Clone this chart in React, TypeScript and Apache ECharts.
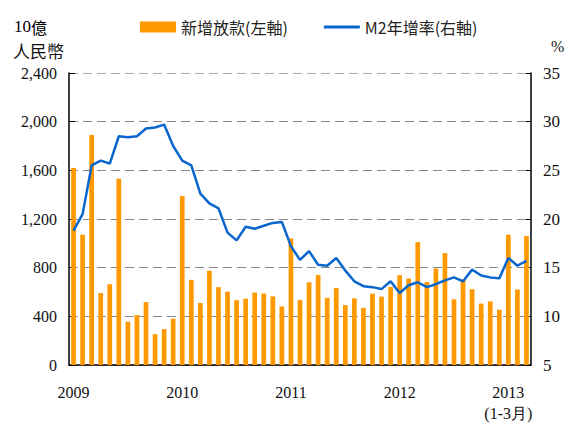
import React, { useEffect, useRef } from "react";
import * as echarts from "echarts";

const months: string[] = [];
for (let y = 2009; y <= 2013; y++) {
  for (let m = 1; m <= 12; m++) {
    if (y === 2013 && m > 3) break;
    months.push(`${y}/${m}`);
  }
}

const newLoans = [
  1620, 1070, 1890, 592, 664, 1530, 356, 410, 517, 253, 295, 380,
  1390, 700, 510, 774, 640, 603, 533, 545, 595, 587, 564, 481,
  1040, 535, 680, 740, 552, 634, 492, 548, 470, 587, 562, 641,
  738, 711, 1010, 682, 793, 920, 540, 704, 623, 505, 523, 454,
  1070, 620, 1060,
];

const m2Growth = [
  18.8, 20.5, 25.5, 26.0, 25.7, 28.5, 28.4, 28.5, 29.3, 29.4, 29.7, 27.5,
  26.0, 25.5, 22.6, 21.6, 21.1, 18.6, 17.8, 19.2, 19.0, 19.3, 19.6, 19.7,
  17.2, 15.8, 16.7, 15.3, 15.2, 16.0, 14.7, 13.6, 13.1, 13.0, 12.8, 13.6,
  12.4, 13.2, 13.5, 13.0, 13.3, 13.7, 14.0, 13.6, 14.8, 14.2, 14.0, 13.9,
  16.0, 15.2, 15.7,
];

const leftTicks = { min: 0, max: 2400, interval: 400 };
const rightTicks = { min: 5, max: 35, interval: 5 };
const seriesNames = ["新增放款(左軸)", "M2年增率(右軸)"];

const serif = "Liberation Serif";
const cjk = "Noto Sans CJK TC";

export default function App() {
  const ref = useRef<HTMLDivElement>(null);
  useEffect(() => {
    if (!ref.current) return;
    const chart = echarts.init(ref.current, undefined, { renderer: "svg" });
    chart.setOption({
      animation: false,
      backgroundColor: "#ffffff",
      textStyle: { fontFamily: serif },
      grid: { left: 69, right: 35, top: 73, bottom: 57 },
      legend: {
        left: 140,
        top: 19,
        padding: 0,
        itemWidth: 36,
        itemHeight: 11,
        itemGap: 36,
        textStyle: { fontFamily: cjk, fontSize: 16, color: "#222" },
        data: [
          { name: seriesNames[0], icon: "rect" },
          { name: seriesNames[1], icon: "path://M0,0L36,0L36,3L0,3Z" },
        ],
      },
      graphic: [
        {
          type: "text",
          left: 14,
          top: 18,
          style: {
            text: "{a|10}{b|億}",
            rich: {
              a: { fontFamily: serif, fontSize: 17, color: "#111" },
              b: { fontFamily: cjk, fontSize: 16, color: "#111" },
            },
          },
        },
        { type: "text", left: 13, top: 42, style: { text: "人民幣", fontFamily: cjk, fontSize: 17, fill: "#111" } },
        { type: "text", left: 551, top: 38, style: { text: "%", fontFamily: serif, fontSize: 16, fill: "#111" } },
      ],
      xAxis: {
        type: "category",
        data: months,
        boundaryGap: true,
        axisLine: { lineStyle: { color: "#000", width: 1.5 } },
        axisTick: {
          inside: true,
          length: 5,
          interval: (i: number) => i % 12 === 0,
          lineStyle: { color: "#000" },
        },
        axisLabel: {
          interval: (i: number) => i % 12 === 0,
          margin: 17,
          fontFamily: serif,
          fontSize: 16,
          color: "#111",
          lineHeight: 21,
          formatter: (v: string) => {
            const y = v.split("/")[0];
            return y === "2013" ? "2013\n(1-3月)" : y;
          },
        },
      },
      yAxis: [
        {
          type: "value",
          ...leftTicks,
          axisLine: { show: true, lineStyle: { color: "#000", width: 1.5 } },
          axisTick: { show: true, inside: true, length: 6, lineStyle: { color: "#000" } },
          axisLabel: {
            margin: 12,
            fontFamily: serif,
            fontSize: 16,
            color: "#111",
            formatter: (v: number) => v.toLocaleString("en-US"),
          },
          splitLine: {
            show: true,
            lineStyle: {
              type: [9, 5],
              width: 1,
              color: ["#888", "#888", "#888", "#888", "#888", "#888", "#aaa"],
            },
          },
        },
        {
          type: "value",
          ...rightTicks,
          position: "right",
          axisLine: { show: true, lineStyle: { color: "#000", width: 1.5 } },
          axisTick: { show: true, inside: true, length: 5, lineStyle: { color: "#000" } },
          axisLabel: { margin: 12, fontFamily: serif, fontSize: 17, color: "#111" },
          splitLine: { show: false },
        },
      ],
      series: [
        {
          name: seriesNames[0],
          type: "bar",
          yAxisIndex: 0,
          data: newLoans,
          barWidth: "52%",
          itemStyle: { color: "#FF9900" },
        },
        {
          name: seriesNames[1],
          type: "line",
          yAxisIndex: 1,
          data: m2Growth,
          symbol: "none",
          lineStyle: { color: "#0A66CC", width: 2.5 },
          itemStyle: { color: "#0A66CC" },
        },
      ],
    });
    return () => chart.dispose();
  }, []);
  return (
    <div
      ref={ref}
      style={{ position: "fixed", left: 0, top: 0, width: 566, height: 424 }}
    />
  );
}
